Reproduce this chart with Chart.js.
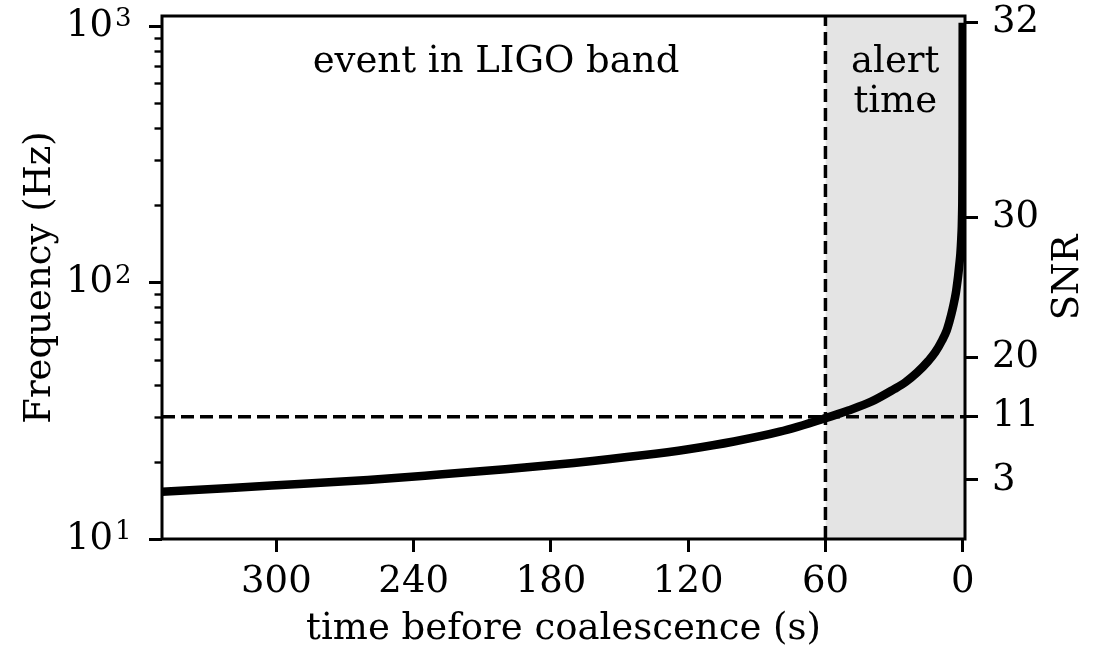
<!DOCTYPE html>
<html>
<head>
<meta charset="utf-8">
<script src="https://cdn.jsdelivr.net/npm/chart.js@4.4.1/dist/chart.umd.min.js"></script>
<style>
  html, body { margin: 0; padding: 0; background: #ffffff; }
  #wrap { width: 1104px; height: 652px; position: relative; }
</style>
</head>
<body>
<div id="wrap"><canvas id="chart" width="1104" height="652"></canvas></div>
<script>
// Chirp track: time before coalescence (s) and gravitational-wave frequency (Hz)
const timeBefore = [350, 320, 290, 260, 230, 200, 170, 140, 120, 100, 80, 60, 50, 40, 30, 25, 20, 15, 12, 9, 7, 6, 5, 4, 3, 2.5, 2, 1.5, 1, 0.6, 0.4, 0.3, 0.2, 0.1, 0.05, 0.02, 0];
const frequency  = [15.3, 15.8, 16.4, 17.0, 17.8, 18.7, 19.8, 21.2, 22.4, 24.0, 26.2, 29.6, 31.7, 34.3, 38.4, 40.9, 44.5, 49.5, 53.5, 59.5, 65, 69.5, 75, 82, 91, 98, 106, 117, 130, 150, 165, 180, 200, 260, 400, 700, 1030];

// Alert window start and detection threshold frequency
const alertStart = 60;
const thresholdFreq = 30;

// Axis ranges and ticks
const timeRange = [-1, 350];
const freqRange = [10, 1095];
const timeTicks = [300, 240, 180, 120, 60, 0];
const freqMajorTicks = [10, 100, 1000];
const freqMajorBase = '10';
const freqMajorExponents = ['1', '2', '3'];
const freqMinorTicks = [20, 30, 40, 50, 60, 70, 80, 90, 200, 300, 400, 500, 600, 700, 800, 900];
const snrTickFreqs = [17, 30, 51, 180, 1030];
const snrTickLabels = ['3', '11', '20', '30', '32'];

// Text labels placed in data coordinates (time, frequency)
const bandLabel = { lines: ['event in LIGO band'], t: 204, f: 661 };
const alertLabel = { lines: ['alert', 'time'], t: 29.5, f: 661 };

const FONT = '"DejaVu Serif", "Liberation Serif", serif';
const FS = 37;
const FS_EXP = 26;
Chart.defaults.color = '#000';
Chart.defaults.font.family = FONT;

const decorations = {
  id: 'decorations',
  afterDatasetsDraw(chart) {
    const { ctx, scales } = chart;
    const x = scales.x, y = scales.y;
    ctx.save();
    ctx.fillStyle = '#000';
    ctx.font = FS + 'px ' + FONT;
    ctx.textAlign = 'center';
    ctx.textBaseline = 'alphabetic';
    [bandLabel, alertLabel].forEach(lab => {
      const px = x.getPixelForValue(lab.t);
      const py = y.getPixelForValue(lab.f);
      lab.lines.forEach((ln, i) => ctx.fillText(ln, px, py + i * 40));
    });
    ctx.restore();
  },
  afterDraw(chart) {
    const { ctx, chartArea: a, scales } = chart;
    const y = scales.y;
    ctx.save();
    // frame
    ctx.strokeStyle = '#000';
    ctx.lineWidth = 3;
    ctx.strokeRect(a.left, a.top, a.right - a.left, a.bottom - a.top);
    // minor ticks on the frequency axis
    ctx.lineWidth = 2.4;
    freqMinorTicks.forEach(v => {
      const py = Math.round(y.getPixelForValue(v)) + 0.5;
      ctx.beginPath();
      ctx.moveTo(a.left - 7.5, py);
      ctx.lineTo(a.left, py);
      ctx.stroke();
    });
    // exponents of the decade labels
    ctx.fillStyle = '#000';
    ctx.font = FS_EXP + 'px ' + FONT;
    ctx.textAlign = 'left';
    ctx.textBaseline = 'alphabetic';
    freqMajorTicks.forEach((v, i) => {
      const py = y.getPixelForValue(v);
      ctx.fillText(freqMajorExponents[i], a.left - 13 - 36 + 2, py);
    });
    // right axis title, reading bottom to top
    ctx.font = FS + 'px ' + FONT;
    ctx.textAlign = 'center';
    ctx.textBaseline = 'middle';
    ctx.translate(1068, (a.top + a.bottom) / 2);
    ctx.rotate(-Math.PI / 2);
    ctx.fillText('SNR', 0, 0);
    ctx.restore();
  }
};

const tickFont = { family: FONT, size: FS };
const noPadV = s => { s.paddingTop = 0; s.paddingBottom = 0; };

new Chart(document.getElementById('chart'), {
  type: 'line',
  data: {
    datasets: [
      {
        label: 'frequency',
        data: timeBefore.map((t, i) => ({ x: t, y: frequency[i] })),
        borderColor: '#000',
        borderWidth: 8.5,
        pointRadius: 0,
        cubicInterpolationMode: 'monotone',
        fill: false,
        yAxisID: 'y',
        order: 0
      },
      {
        label: 'threshold',
        data: [{ x: timeRange[1], y: thresholdFreq }, { x: timeRange[0], y: thresholdFreq }],
        borderColor: '#000',
        borderWidth: 3.5,
        borderDash: [13, 6],
        pointRadius: 0,
        fill: false,
        yAxisID: 'y',
        order: 1
      },
      {
        label: 'alert start',
        data: [{ x: alertStart, y: freqRange[0] }, { x: alertStart, y: freqRange[1] }],
        borderColor: '#000',
        borderWidth: 3.5,
        borderDash: [13, 6],
        pointRadius: 0,
        fill: false,
        yAxisID: 'y',
        order: 1
      },
      {
        label: 'alert window',
        data: [{ x: alertStart, y: freqRange[1] }, { x: timeRange[0], y: freqRange[1] }],
        borderWidth: 0,
        borderColor: 'rgba(0,0,0,0)',
        backgroundColor: '#e4e4e4',
        pointRadius: 0,
        fill: 'start',
        yAxisID: 'y',
        order: 2
      }
    ]
  },
  options: {
    responsive: false,
    animation: false,
    devicePixelRatio: 1,
    layout: { padding: { top: 16, left: 0, right: 0, bottom: 0 } },
    plugins: { legend: { display: false }, tooltip: { enabled: false }, title: { display: false } },
    scales: {
      x: {
        type: 'linear',
        position: 'bottom',
        reverse: true,
        min: timeRange[0],
        max: timeRange[1],
        afterBuildTicks: s => { s.ticks = timeTicks.map(v => ({ value: v })); },
        afterFit: s => { s.height = 113; s.paddingLeft = 0; s.paddingRight = 0; },
        border: { display: false },
        grid: { drawOnChartArea: false, drawTicks: true, tickLength: 13, lineWidth: 3, color: '#000' },
        ticks: { font: tickFont, color: '#000', padding: 8, maxRotation: 0, autoSkip: false, callback: v => String(v) },
        title: { display: true, text: 'time before coalescence (s)', font: tickFont, color: '#000', padding: { top: 0, bottom: 0 } }
      },
      y: {
        type: 'logarithmic',
        position: 'left',
        min: freqRange[0],
        max: freqRange[1],
        afterBuildTicks: s => { s.ticks = freqMajorTicks.map(v => ({ value: v, major: true })); },
        afterFit: s => { s.width = 162; noPadV(s); },
        border: { display: false },
        grid: { drawOnChartArea: false, drawTicks: true, tickLength: 13, lineWidth: 3, color: '#000' },
        ticks: { font: tickFont, color: '#000', padding: 36, autoSkip: false, callback: () => freqMajorBase },
        title: { display: true, text: 'Frequency (Hz)', font: tickFont, color: '#000', padding: { top: 18, bottom: 0 } }
      },
      snr: {
        type: 'logarithmic',
        position: 'right',
        min: freqRange[0],
        max: freqRange[1],
        afterBuildTicks: s => { s.ticks = snrTickFreqs.map(v => ({ value: v })); },
        afterFit: s => { s.width = 139; noPadV(s); },
        border: { display: false },
        grid: { drawOnChartArea: false, drawTicks: true, tickLength: 13, lineWidth: 3, color: '#000' },
        ticks: { font: tickFont, color: '#000', padding: 14, autoSkip: false, callback: (v, i) => snrTickLabels[i] }
      }
    }
  },
  plugins: [decorations]
});
</script>
</body>
</html>
